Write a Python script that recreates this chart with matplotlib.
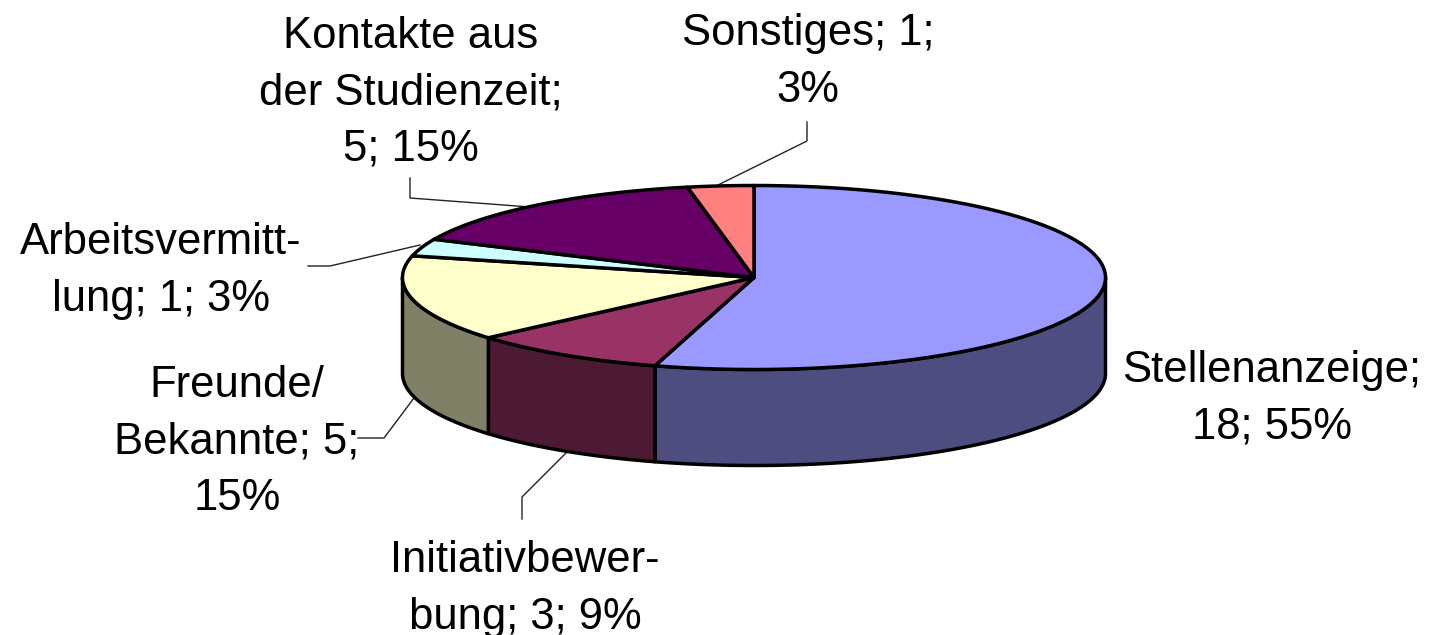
import numpy as np
import matplotlib
matplotlib.use("Agg")
import matplotlib.pyplot as plt
from matplotlib.patches import Polygon

categories = ["Stellenanzeige", "Initiativbewerbung", "Freunde/Bekannte", "Arbeitsvermittlung", "Kontakte aus der Studienzeit", "Sonstiges"]
values = [18, 3, 5, 1, 5, 1]
top_colors = ["#9999FF", "#993366", "#FFFFCC", "#CCFFFF", "#660066", "#FF8080"]
side_colors = ["#4D4D80", "#4D1A33", "#808066", "#668080", "#330033", "#804040"]
label_texts = ["Stellenanzeige;\n18; 55%", "Initiativbewer-\nbung; 3; 9%", "Freunde/\nBekannte; 5;\n15%",
               "Arbeitsvermitt-\nlung; 1; 3%", "Kontakte aus\nder Studienzeit;\n5; 15%", "Sonstiges; 1;\n3%"]

plt.rcParams["font.family"] = ["Liberation Sans", "DejaVu Sans"]
fig = plt.figure(figsize=(14.34, 6.35), dpi=100)
ax = fig.add_axes([0, 0, 1, 1])
ax.set_xlim(0, 1434)
ax.set_ylim(635, 0)
ax.axis("off")

cx, cy, rx, ry, depth = 754, 277.5, 351.5, 92, 96
lw = 2.5

def rim(t0, t1, dy=0):
    ts = np.linspace(t0, t1, 200)
    r = np.radians(ts)
    return np.column_stack([cx + rx * np.sin(r), cy - ry * np.cos(r) + dy])

total = sum(values)
edges = np.concatenate([[0], np.cumsum(values)]) / total * 360

# side walls for the front half (90..270 degrees)
for v0, v1, c in zip(edges[:-1], edges[1:], side_colors):
    a, b = max(v0, 90), min(v1, 270)
    if b <= a:
        continue
    upper = rim(a, b)
    lower = rim(a, b, depth)[::-1]
    ax.add_patch(Polygon(np.vstack([upper, lower]), closed=True, fc=c, ec="black", lw=lw, joinstyle="round"))

# top faces
for v0, v1, c in zip(edges[:-1], edges[1:], top_colors):
    arc = rim(v0, v1)
    ax.add_patch(Polygon(np.vstack([[[cx, cy]], arc]), closed=True, fc=c, ec="black", lw=lw, joinstyle="round"))

# labels
fs = 31.4
positions = [(1272, 399), (525, 589), (237, 442), (161, 271), (411, 93), (808, 62)]
for txt, (x, y) in zip(label_texts, positions):
    ax.text(x, y, txt, ha="center", va="center", fontsize=fs, color="black", linespacing=1.48)

# leader lines
leaders = [
    [(522, 519), (522, 497), (566, 453)],
    [(358, 438), (384, 438), (414, 398)],
    [(308, 266), (330, 266), (420, 245)],
    [(410, 178), (410, 198), (530, 207)],
    [(807, 122), (807, 141), (716, 186)],
]
for line in leaders:
    xs, ys = zip(*line)
    ax.plot(xs, ys, color="#222222", lw=1.0, zorder=0.5)

fig.savefig("out.png", dpi=100)
